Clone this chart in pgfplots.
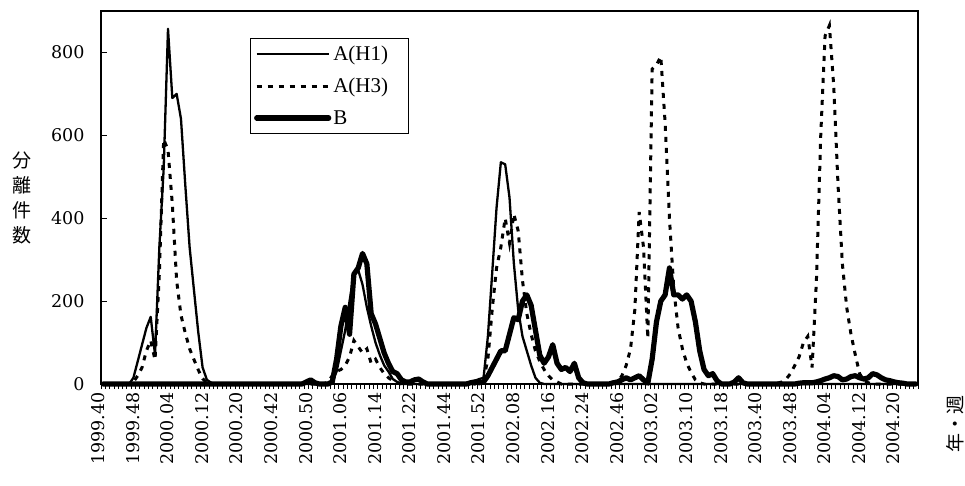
\documentclass[border=0pt]{standalone}
\usepackage{pgfplots}
\usepackage{pgfplotstable}
\pgfplotsset{compat=1.18}
\usepackage{fontspec}
\setmainfont{DejaVu Serif}
\newfontfamily\legfont{Liberation Serif}
\newfontfamily\cjk{Noto Sans CJK JP}

\pgfplotstableread{
h1 h3 b
0 0 0
0 0 0
0 0 0
0 0 0
0 0 0
0 0 0
0 0 0
15 5 0
55 20 0
95 40 0
135 80 0
162 105 0
70 58 0
330 267 0
520 590 0
857 565 0
690 434 0
700 249 0
640 166 0
480 123 0
330 85 0
227 59 0
125 34 0
40 13 0
10 3 0
3 0 0
0 0 0
0 0 0
0 0 0
0 0 0
0 0 0
0 0 0
0 0 0
0 0 0
0 0 0
0 0 0
0 0 0
0 0 0
0 0 0
0 0 0
0 0 0
0 0 0
0 0 0
0 0 0
0 0 0
0 0 0
0 0 0
0 0 5
0 0 10
0 0 3
0 0 0
0 0 0
0 5 0
5 20 5
30 30 60
80 35 140
130 45 185
200 65 120
265 105 265
275 90 280
240 75 315
185 85 290
140 50 170
100 60 145
70 40 110
45 25 75
30 15 50
12 8 30
5 3 25
0 0 10
0 0 5
0 0 5
0 0 10
0 0 12
0 0 5
0 0 0
0 0 0
0 0 0
0 0 0
0 0 0
0 0 0
0 0 0
0 0 0
0 0 0
0 0 0
5 0 3
8 0 5
12 5 3
15 10 5
115 60 20
268 180 40
425 280 60
535 330 80
530 400 80
450 340 120
292 410 160
180 370 155
115 250 200
80 170 215
45 120 190
15 80 130
3 55 70
0 35 50
0 20 65
0 10 95
0 5 50
0 0 35
0 0 40
0 0 30
0 0 50
0 0 15
0 0 3
0 0 0
0 0 0
0 0 0
0 0 0
0 0 0
0 0 0
0 2 3
0 5 5
0 20 10
0 45 15
0 85 10
0 180 15
0 415 20
0 330 10
0 110 2
0 760 60
0 770 150
0 790 200
0 630 215
0 400 280
0 230 215
0 135 215
0 85 205
0 50 215
0 28 200
0 10 150
0 3 80
0 0 35
0 0 20
0 0 25
0 0 8
0 0 0
0 0 0
0 0 0
0 0 5
0 0 15
0 0 3
0 0 0
0 0 0
0 0 0
0 0 0
0 0 0
0 0 0
0 0 0
0 2 0
0 5 0
0 12 0
0 25 0
0 45 0
0 66 2
0 100 3
0 115 3
0 40 3
0 250 5
0 600 8
0 840 12
0 865 15
0 720 20
0 480 18
0 290 10
0 185 12
0 120 18
0 70 20
0 25 15
0 8 12
0 3 15
0 0 25
0 0 22
0 0 15
0 0 10
0 0 8
0 0 5
0 0 3
0 0 2
0 0 0
0 0 0
0 0 0
}\datatable

\begin{document}
\begin{tikzpicture}
\useasboundingbox (-101pt,-101pt) rectangle (864pt,384pt);
\begin{axis}[
  scale only axis,
  width=817pt, height=373pt,
  xmin=-0.5, xmax=188.5,
  ymin=0, ymax=900,
  clip=false,
  every axis/.append style={line width=2.4pt},
  tick style={black, line width=0.9pt},
  major tick length=6pt,
  minor tick length=5pt,
  xtick align=outside,
  ytick align=inside,
  xtick pos=bottom,
  ytick pos=left,
  xtick={0,8,...,184},
  xticklabels={1999.40,1999.48,2000.04,2000.12,2000.20,2000.42,2000.50,2001.06,2001.14,2001.22,2001.44,2001.52,2002.08,2002.16,2002.24,2002.46,2003.02,2003.10,2003.18,2003.40,2003.48,2004.04,2004.12,2004.20},
  minor xtick={-0.5,0.5,...,188.5},
  major x tick style={draw=none},
  ytick={0,200,400,600,800},
  /pgf/number format/assume math mode=true,
  xticklabel style={font=\fontsize{17.5}{20}\selectfont, xshift=-5pt, rotate=90, anchor=east, inner sep=1pt},
  yticklabel style={font=\fontsize{17.5}{20}\selectfont, xshift=-12pt},
  legend style={at={(0.182,0.928)}, anchor=north west, draw=black, line width=0.8pt,
    font=\legfont\fontsize{21}{24}\selectfont, inner xsep=4pt, inner ysep=6pt,
    row sep=12pt, cells={anchor=west}},
  legend image code/.code={\draw[#1] (0pt,0pt) -- (72pt,0pt);},
  legend cell align=left,
]
\addplot[black, line width=2.3pt, line join=round] table[x expr=\coordindex, y=h1] {\datatable};
\addlegendentry{A(H1)\hspace*{14pt}}
\addplot[black, line width=3pt, dash pattern=on 5pt off 6pt] table[x expr=\coordindex, y=h3] {\datatable};
\addlegendentry{A(H3)\hspace*{14pt}}
\addplot[black, line width=5.2pt, line join=round, line cap=round] table[x expr=\coordindex, y=b] {\datatable};
\addlegendentry{B}
\end{axis}
\node[align=center, font=\cjk\fontsize{19}{25}\selectfont] at (-79pt,186pt) {分\\離\\件\\数};
\node[rotate=90, font=\cjk\fontsize{19}{22}\selectfont] at (854pt,-40pt) {年・週};
\end{tikzpicture}
\end{document}
